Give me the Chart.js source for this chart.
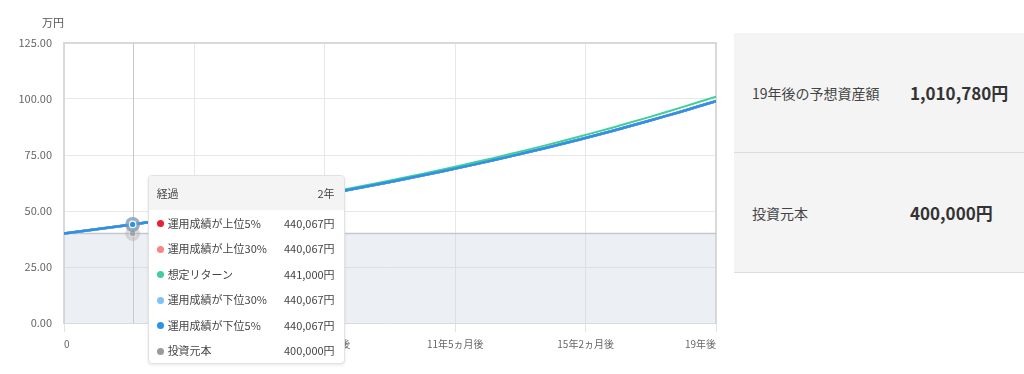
<!DOCTYPE html>
<html lang="ja">
<head>
<meta charset="utf-8">
<script src="https://cdn.jsdelivr.net/npm/chart.js@4/dist/chart.umd.min.js"></script>
<style>
  html, body { margin:0; padding:0; background:#fff; width:1024px; height:374px; overflow:hidden; }
  body { font-family:"Noto Sans CJK JP","Noto Sans",sans-serif; position:relative; }
  #wrap { position:absolute; left:0; top:0; width:722px; height:374px; }
  #unit { position:absolute; left:42px; top:14px; font-size:11px; color:#555; }
  #panel { position:absolute; left:734px; top:33px; width:290px; background:#f4f4f4; }
  .prow { height:119px; border-bottom:1px solid #dcdcdc; display:flex; align-items:center; }
  .plabel { width:158px; padding-left:18px; font-size:14px; color:#444; }
  .pval { font-size:17px; font-weight:bold; color:#333; }
  #tt { position:absolute; width:195px; background:#fff; border:1px solid #e2e2e2; border-radius:4px;
        box-shadow:0 1px 3px rgba(0,0,0,0.10); font-size:11px; color:#444; overflow:hidden; pointer-events:none; }
  #tt .th { height:34px; background:#f4f4f4; display:flex; justify-content:space-between; align-items:center; padding:0 9px 0 8px; }
  #tt .tr { height:25.5px; display:flex; justify-content:space-between; align-items:center; padding:0 9px 0 8px; }
  #tt .dot { display:inline-block; width:7px; height:7px; border-radius:50%; margin-right:4px; vertical-align:middle; position:relative; top:-1px; }
</style>
</head>
<body>
<div id="wrap"><canvas id="c" width="722" height="374"></canvas></div>
<div id="unit">万円</div>
<div id="panel">
  <div class="prow"><div class="plabel">19年後の予想資産額</div><div class="pval">1,010,780円</div></div>
  <div class="prow"><div class="plabel">投資元本</div><div class="pval">400,000円</div></div>
</div>
<div id="tt"></div>
<script>
// ---- data (万円) ----
const years = [0,1,2,3,4,5,6,7,8,9,10,11,12,13,14,15,16,17,18,19];
const upper5  = [40,41.9556,44.0067,46.1581,48.4147,50.7817,53.2643,55.8684,58.5997,61.4646,64.4695,67.6214,70.9273,74.3949,78.0320,81.8469,85.8483,90.0453,94.4475,99.0650];
const upper30 = [40,41.9556,44.0067,46.1581,48.4147,50.7817,53.2643,55.8684,58.5997,61.4646,64.4695,67.6214,70.9273,74.3949,78.0320,81.8469,85.8483,90.0453,94.4475,99.0650];
const expected = [40,42.0,44.10,46.305,48.620,51.051,53.604,56.284,59.098,62.053,65.156,68.414,71.834,75.426,79.197,83.157,87.315,91.681,96.265,101.078];
const lower30 = [40,41.9556,44.0067,46.1581,48.4147,50.7817,53.2643,55.8684,58.5997,61.4646,64.4695,67.6214,70.9273,74.3949,78.0320,81.8469,85.8483,90.0453,94.4475,99.0650];
const lower5  = [40,41.9556,44.0067,46.1581,48.4147,50.7817,53.2643,55.8684,58.5997,61.4646,64.4695,67.6214,70.9273,74.3949,78.0320,81.8469,85.8483,90.0453,94.4475,99.0650];
const principal = [40,40,40,40,40,40,40,40,40,40,40,40,40,40,40,40,40,40,40,40];
const xTickValues = [0,3.8,7.6,11.4,15.2,19];
const xTickLabels = ["0","3年10ヵ月後","7年7ヵ月後","11年5ヵ月後","15年2ヵ月後","19年後"];
const seriesNames = ["運用成績が上位5%","運用成績が上位30%","想定リターン","運用成績が下位30%","運用成績が下位5%","投資元本"];
const activeIndex = 2;

const FONT = '"Noto Sans CJK JP","Noto Sans",sans-serif';
const pts = arr => arr.map((v,i)=>({x:years[i], y:v}));
const colors = ['#e8212f','#f78686','#3fcf98','#7fc2f7','#2b92ea','#9a9a9a'];
const orders = [4,3,1,2,0,5];
const sets = [upper5, upper30, expected, lower30, lower5, principal];

const datasets = sets.map((arr,i)=>({
  label: seriesNames[i],
  data: pts(arr),
  borderColor: i===5 ? '#c4c7cc' : colors[i],
  backgroundColor: i===5 ? 'rgba(196,204,218,0.32)' : colors[i],
  borderWidth: i===5 ? 1.5 : (i===2 ? 2 : 2.5),
  fill: i===5 ? 'origin' : false,
  pointRadius: 0,
  pointHoverRadius: 0,
  tension: 0.3,
  order: orders[i]
}));

const fmt = v => Math.round(v*10000).toString().replace(/\B(?=(\d{3})+(?!\d))/g, ',') + '円';

const decor = {
  id:'decor',
  beforeDatasetsDraw(chart){
    const {ctx, chartArea:a} = chart;
    ctx.save();
    ctx.strokeStyle = '#d9d9d9'; ctx.lineWidth = 2;
    ctx.beginPath(); ctx.moveTo(a.left, a.top); ctx.lineTo(a.right, a.top); ctx.lineTo(a.right, a.bottom); ctx.stroke();
    const act = chart.getActiveElements();
    if (act.length){
      const x = Math.round(act[0].element.x)+0.5;
      ctx.strokeStyle = '#c8c8c8'; ctx.lineWidth = 1;
      ctx.beginPath(); ctx.moveTo(x, a.top); ctx.lineTo(x, a.bottom); ctx.stroke();
    }
    ctx.restore();
  },
  afterDatasetsDraw(chart){
    const {ctx} = chart;
    const act = chart.getActiveElements();
    const drawList = [act.find(e=>e.datasetIndex===5), act.find(e=>e.datasetIndex===4)].filter(Boolean);
    ctx.save();
    drawList.forEach(e=>{
      const {x,y} = e.element;
      const c = colors[e.datasetIndex];
      const grey = e.datasetIndex===5;
      ctx.beginPath(); ctx.arc(x,y,7.5,0,Math.PI*2);
      ctx.fillStyle = grey ? 'rgba(170,170,170,0.4)' : 'rgba(120,150,180,0.75)'; ctx.fill();
      ctx.beginPath(); ctx.arc(x,y,3.8,0,Math.PI*2); ctx.fillStyle = grey ? 'rgba(255,255,255,0.3)' : '#fff'; ctx.fill();
      ctx.beginPath(); ctx.arc(x,y,2.6,0,Math.PI*2); ctx.fillStyle = grey ? 'rgba(130,130,130,0.6)' : c; ctx.fill();
    });
    ctx.restore();
  }
};

function external(context){
  const {chart, tooltip} = context;
  const el = document.getElementById('tt');
  if (tooltip.opacity === 0 || !tooltip.dataPoints || !tooltip.dataPoints.length){ el.style.display='none'; return; }
  const dps = tooltip.dataPoints.slice().sort((p,q)=>p.datasetIndex-q.datasetIndex);
  let h = '<div class="th"><span>経過</span><span>' + years[dps[0].dataIndex] + '年</span></div>';
  dps.forEach(dp=>{
    h += '<div class="tr"><span><span class="dot" style="background:' + colors[dp.datasetIndex] + '"></span>' +
         seriesNames[dp.datasetIndex] + '</span><span>' + fmt(dp.raw.y) + '</span></div>';
  });
  el.innerHTML = h;
  el.style.display = 'block';
  const r = chart.canvas.getBoundingClientRect();
  el.style.left = (r.left + tooltip.caretX + 15) + 'px';
  el.style.top = (r.top + tooltip.caretY - 51) + 'px';
}

const chart = new Chart(document.getElementById('c'), {
  type:'line',
  data:{ datasets },
  options:{
    responsive:false,
    animation:false,
    layout:{ padding:{ top:43, right:6, left:0, bottom:0 } },
    interaction:{ mode:'index', intersect:false },
    plugins:{
      legend:{ display:false },
      tooltip:{ enabled:false, external, itemSort:(a,b)=>a.datasetIndex-b.datasetIndex }
    },
    scales:{
      x:{
        type:'linear', min:0, max:19,
        afterBuildTicks: s => { s.ticks = xTickValues.map(v=>({value:v})); },
        afterFit: s => { s.height = 51; },
        grid:{ color:'#e8e8e8', drawTicks:true, tickLength:9, tickColor:'#dfe3ea' },
        border:{ display:true, color:'#d5dbe3', width:1 },
        ticks:{ autoSkip:false, maxRotation:0, align:'inner', padding:6, color:'#666',
                font:{ family:FONT, size:10 },
                callback:(v,i)=> xTickLabels[i] }
      },
      y:{
        min:0, max:125,
        afterFit: s => { s.width = 64; },
        grid:{ color:'#e8e8e8', drawTicks:false },
        border:{ display:true, color:'#d9d9d9', width:2 },
        ticks:{ stepSize:25, padding:12, color:'#666', font:{ family:FONT, size:11 },
                callback: v => Number(v).toFixed(2) }
      }
    }
  },
  plugins:[decor]
});

const active = sets.map((_,i)=>({datasetIndex:i, index:activeIndex}));
chart.setActiveElements(active);
const m = chart.getDatasetMeta(4).data[activeIndex];
chart.tooltip.setActiveElements(active, {x:m.x, y:m.y});
chart.update();
</script>
</body>
</html>
